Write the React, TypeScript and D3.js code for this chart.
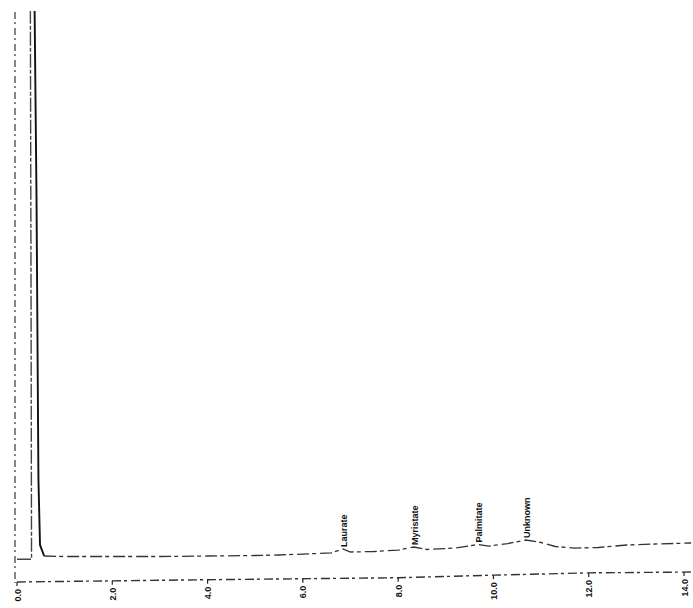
import React from 'react';
import * as d3 from 'd3';

// chromatogram trace (retention time in min, detector signal)
const traceTime = [0, 0.305, 0.295, 0.28, 0.36, 0.37, 0.41, 0.45, 0.483, 0.57, 1.0, 2.0, 3.0, 4.0, 5.0, 5.5, 6.0, 6.6, 6.84, 7.0, 7.5, 8.0, 8.33, 8.6, 9.2, 9.68, 9.9, 10.3, 10.68, 11.0, 11.3, 11.7, 12.2, 12.8, 13.4, 14.15];
const traceSignal = [4.0, 4.0, 50, 103, 103, 100, 67, 18, 6.5, 4.56, 4.47, 4.47, 4.47, 4.56, 4.65, 4.74, 4.9, 5.1, 5.8, 5.26, 5.35, 5.6, 6.14, 5.7, 5.96, 6.58, 6.3, 6.75, 7.37, 6.93, 6.23, 5.96, 6.05, 6.49, 6.67, 6.84];

// drifting blank line under the trace
const blankTime = [0, 4, 8, 10, 12, 14.15];
const blankSignal = [0, 0.4, 0.75, 1.2, 1.6, 1.75];

const peakNames = ['Laurate', 'Myristate', 'Palmitate', 'Unknown'];
const peakTimes = [6.84, 8.33, 9.68, 10.68];

const tickValues = [0, 2, 4, 6, 8, 10, 12, 14];
const tickLabels = ['0.0', '2.0', '4.0', '6.0', '8.0', '10.0', '12.0', '14.0'];

const W = 693;
const H = 608;

const interp = (ts: number[], vs: number[], t: number) => {
  for (let i = 1; i < ts.length; i++) {
    if (ts[i] >= t && ts[i - 1] <= t) {
      const k = (t - ts[i - 1]) / (ts[i] - ts[i - 1] || 1);
      return vs[i - 1] + k * (vs[i] - vs[i - 1]);
    }
  }
  return vs[vs.length - 1];
};

const App = () => {
  const x = d3.scaleLinear().domain([0, 14]).range([17, 684]);
  const y = d3.scaleLinear().domain([0, 100]).range([582, 12]);

  const trace = traceTime.map((t, i) => [t, traceSignal[i]] as [number, number]);
  const blank = blankTime.map((t, i) => [t, blankSignal[i]] as [number, number]);

  const line = d3
    .line<[number, number]>()
    .x((d) => x(d[0]))
    .y((d) => y(d[1]));

  // rising edge (scanned faint), falling edge (solid), then the baseline run
  const rising = trace.slice(0, 5);
  const falling = trace.slice(4, 10);
  const rest = trace.slice(9);
  const font = '"Liberation Sans", Arial, sans-serif';

  return (
    <svg width={W} height={H} style={{ position: 'absolute', left: 0, top: 0, background: '#fff' }}>
      <defs>
        <clipPath id="plot">
          <rect x={0} y={11} width={W} height={H - 11} />
        </clipPath>
      </defs>

      {/* left axis */}
      <line x1={15} x2={15} y1={12} y2={583} stroke="#444" strokeWidth={1.3} strokeDasharray="7 3 2 4" />

      {/* blank / x axis line */}
      <path d={line(blank) || ''} fill="none" stroke="#333" strokeWidth={1.4} strokeDasharray="9 3 3 4" />

      <g clipPath="url(#plot)">
        <path d={line(rising) || ''} fill="none" stroke="#444" strokeWidth={1.4} strokeDasharray="14 2 4 2" />
        <path d={line(falling) || ''} fill="none" stroke="#111" strokeWidth={1.9} />
        <path d={line(rest) || ''} fill="none" stroke="#333" strokeWidth={1.3} strokeDasharray="12 3 4 4" />
      </g>

      {/* ticks */}
      {tickValues.map((t, i) => {
        const ly = y(interp(blankTime, blankSignal, t));
        return (
          <g key={t} transform={`translate(${x(t)},${ly})`}>
            <line y1={0} y2={4} stroke="#222" strokeWidth={1.2} />
            <text
              transform="translate(3.5,7) rotate(-90)"
              textAnchor="end"
              fontFamily={font}
              fontWeight="bold"
              fontSize={9}
              fill="#111"
            >
              {tickLabels[i]}
            </text>
          </g>
        );
      })}

      {/* peak labels */}
      {peakNames.map((name, i) => {
        const t = peakTimes[i];
        const px = x(t) + 4;
        const py = y(interp(traceTime.slice(9), traceSignal.slice(9), t)) - 2;
        return (
          <text
            key={name}
            transform={`translate(${px},${py}) rotate(-90)`}
            fontFamily={font}
            fontWeight="bold"
            fontSize={9}
            fill="#111"
          >
            {name}
          </text>
        );
      })}
    </svg>
  );
};

export default App;
